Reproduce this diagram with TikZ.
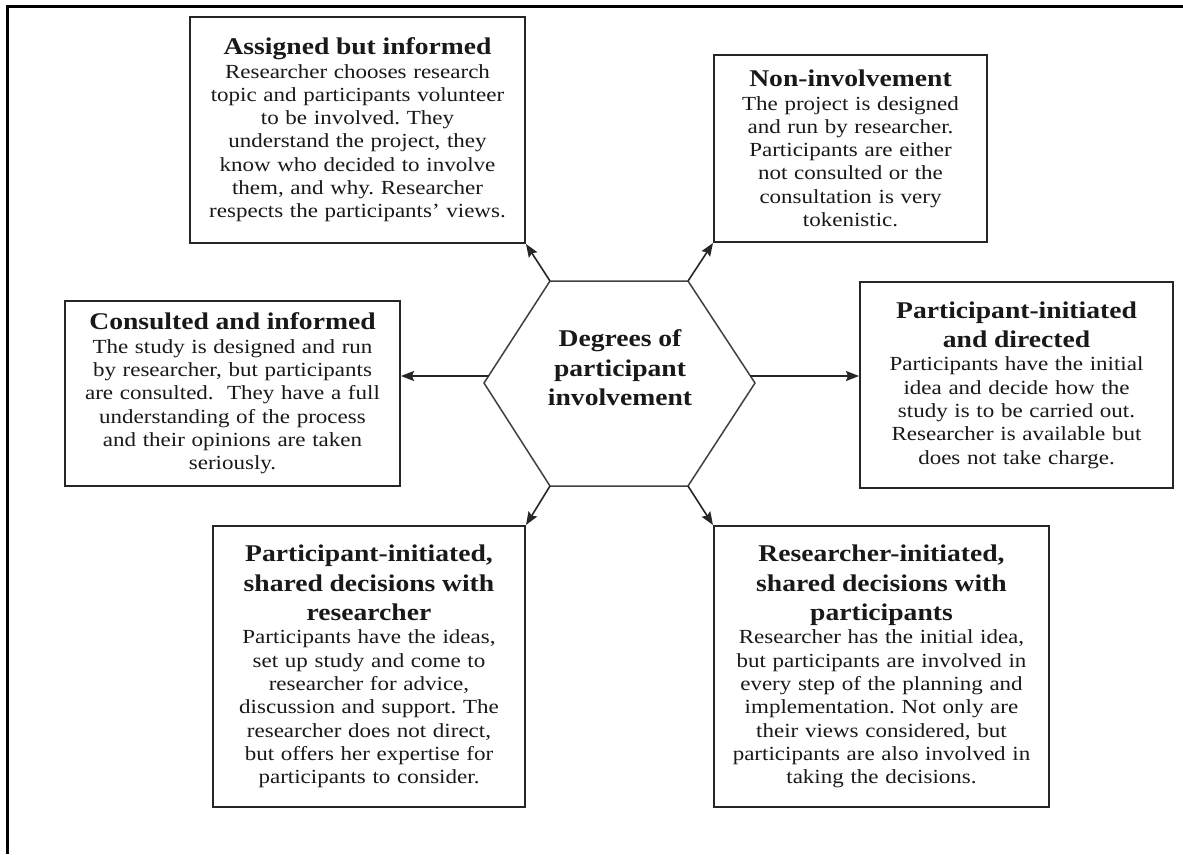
\documentclass[tikz,border=0pt]{standalone}
\usepackage{fontspec}
\setmainfont{Liberation Serif}[FakeStretch=1.15]
\usetikzlibrary{arrows.meta}
\newcommand{\ttlf}{\fontsize{24}{29.5}\selectfont\bfseries}
\newcommand{\bdyf}{\fontsize{20}{23.3}\selectfont}
\frenchspacing
\begin{document}
\begin{tikzpicture}[x=1pt,y=-1pt,
  infobox/.style={draw=black!85, line width=2pt, inner sep=0pt, align=center,
    font=\bdyf, text=black!90, anchor=center},
  arr/.style={draw=black!85, line width=1.6pt, -{Stealth[length=13pt,width=10pt,inset=2pt]}},
  hexline/.style={draw=black!75, line width=1.5pt},
  frame/.style={draw=black, line width=3pt}]
\useasboundingbox (0,0) rectangle (1183,854);
\fill[white] (0,0) rectangle (1183,854);
% outer frame (top and left only)
\coordinate (f1) at (1183,6);
\coordinate (f2) at (7,6);
\coordinate (f3) at (7,854);
\draw[frame] (f1) -- (f2) -- (f3);

% boxes
\node[infobox, text width=335pt, minimum height=226pt] (A) at (357.5,130)
 {{\ttlf Assigned but informed\par}
  Researcher chooses research\\
  topic and participants volunteer\\
  to be involved. They\\
  understand the project, they\\
  know who decided to involve\\
  them, and why. Researcher\\
  respects the participants’ views.};

\node[infobox, text width=273pt, minimum height=187pt] (N) at (850.5,148.5)
 {{\ttlf Non-involvement\par}
  The project is designed\\
  and run by researcher.\\
  Participants are either\\
  not consulted or the\\
  consultation is very\\
  tokenistic.};

\node[infobox, text width=335pt, minimum height=185pt] (C) at (232.5,393.5)
 {{\ttlf Consulted and informed\par}
  The study is designed and run\\
  by researcher, but participants\\
  are consulted.\ \ They have a full\\
  understanding of the process\\
  and their opinions are taken\\
  seriously.};

\node[infobox, text width=313pt, minimum height=206pt] (P) at (1016.5,385)
 {{\ttlf Participant-initiated\\and directed\par}
  Participants have the initial\\
  idea and decide how the\\
  study is to be carried out.\\
  Researcher is available but\\
  does not take charge.};

\node[infobox, text width=312pt, minimum height=281pt] (PS) at (369,666.5)
 {{\ttlf Participant-initiated,\\shared decisions with\\researcher\par}
  Participants have the ideas,\\
  set up study and come to\\
  researcher for advice,\\
  discussion and support. The\\
  researcher does not direct,\\
  but offers her expertise for\\
  participants to consider.};

\node[infobox, text width=335pt, minimum height=281pt] (RS) at (881.5,666.5)
 {{\ttlf Researcher-initiated,\\shared decisions with\\participants\par}
  Researcher has the initial idea,\\
  but participants are involved in\\
  every step of the planning and\\
  implementation. Not only are\\
  their views considered, but\\
  participants are also involved in\\
  taking the decisions.};

% hexagon
\coordinate (htl) at (550,281);
\coordinate (htr) at (688,281);
\coordinate (hr) at (755,383);
\coordinate (hbr) at (688,486);
\coordinate (hbl) at (550,486);
\coordinate (hl) at (484,383);
\draw[hexline] (htl) -- (htr) -- (hr) -- (hbr) -- (hbl) -- (hl) -- cycle;
\node[font=\ttlf, text=black!90, align=center, inner sep=0pt] (hex) at (620,368)
 {Degrees of\\participant\\involvement};

% arrow start points on the hexagon edges
\coordinate (hla) at (489,376);
\coordinate (hra) at (750,376);

% connectors
\draw[arr] (hla) -- (hla -| C.east);
\draw[arr] (hra) -- (hra -| P.west);
\draw[arr] (htl) -- (A.south east);
\draw[arr] (htr) -- (N.south west);
\draw[arr] (hbl) -- (PS.north east);
\draw[arr] (hbr) -- (RS.north west);
\end{tikzpicture}
\end{document}
